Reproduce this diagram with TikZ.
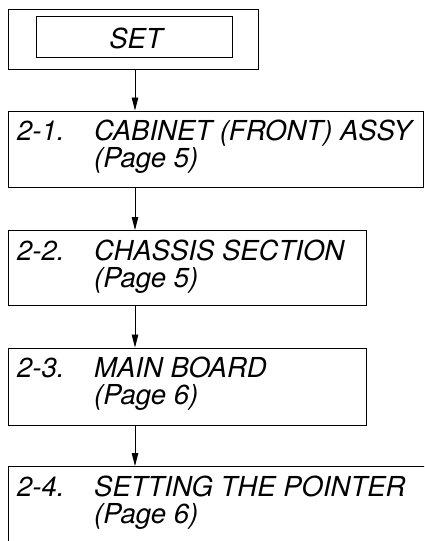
\documentclass[tikz,border=0pt]{standalone}
\usepackage{fontspec}
\setmainfont{TeX Gyre Heros}
\usetikzlibrary{arrows.meta,calc}
\begin{document}
\begin{tikzpicture}[x=1pt,y=-1pt,
  boxline/.style={draw=black,line width=1.2pt,inner sep=0pt,anchor=north west},
  lbl/.style={anchor=base west,inner sep=0pt,font=\fontsize{27.5}{32}\selectfont\itshape},
  arr/.style={draw=black,line width=0.9pt,-{Triangle[length=13pt,width=6.5pt]}}]
\useasboundingbox (0,0) rectangle (424,541);
\clip (0,0) rectangle (424,541);
% SET box
\node[boxline,minimum width=250pt,minimum height=60pt] (outer) at (8,8.5) {};
\node[boxline,minimum width=196pt,minimum height=41pt] (inner) at (36,16) {};
\node[lbl,anchor=base] (settxt) at (136,48) {SET};
% boxes
\node[boxline,minimum width=415pt,minimum height=76pt] (b1) at (8,110.5) {};
\node[boxline,minimum width=358pt,minimum height=75pt] (b2) at (8,230) {};
\node[boxline,minimum width=358pt,minimum height=77pt] (b3) at (8,347.5) {};
\node[boxline,minimum width=440pt,minimum height=110pt] (b4) at (8,466) {};
% texts
\node[lbl] (n1) at ($(b1.north west)+(9,30)$) {2-1.};
\node[lbl] (t1) at ($(b1.north west)+(86,30)$) {CABINET (FRONT) ASSY};
\node[lbl] (p1) at ($(b1.north west)+(86,57)$) {(Page 5)};
\node[lbl] (n2) at ($(b2.north west)+(9,30)$) {2-2.};
\node[lbl] (t2) at ($(b2.north west)+(86,30)$) {CHASSIS SECTION};
\node[lbl] (p2) at ($(b2.north west)+(86,57)$) {(Page 5)};
\node[lbl] (n3) at ($(b3.north west)+(9,30)$) {2-3.};
\node[lbl] (t3) at ($(b3.north west)+(86,30)$) {MAIN BOARD};
\node[lbl] (p3) at ($(b3.north west)+(86,57)$) {(Page 6)};
\node[lbl] (n4) at ($(b4.north west)+(9,30)$) {2-4.};
\node[lbl] (t4) at ($(b4.north west)+(86,30)$) {SETTING THE POINTER};
\node[lbl] (p4) at ($(b4.north west)+(86,57)$) {(Page 6)};
% arrows
\coordinate (ax) at (135,0);
\draw[arr] (outer.south -| ax) -- (b1.north -| ax);
\draw[arr] (b1.south -| ax) -- (b2.north -| ax);
\draw[arr] (b2.south -| ax) -- (b3.north -| ax);
\draw[arr] (b3.south -| ax) -- (b4.north -| ax);
\end{tikzpicture}
\end{document}
